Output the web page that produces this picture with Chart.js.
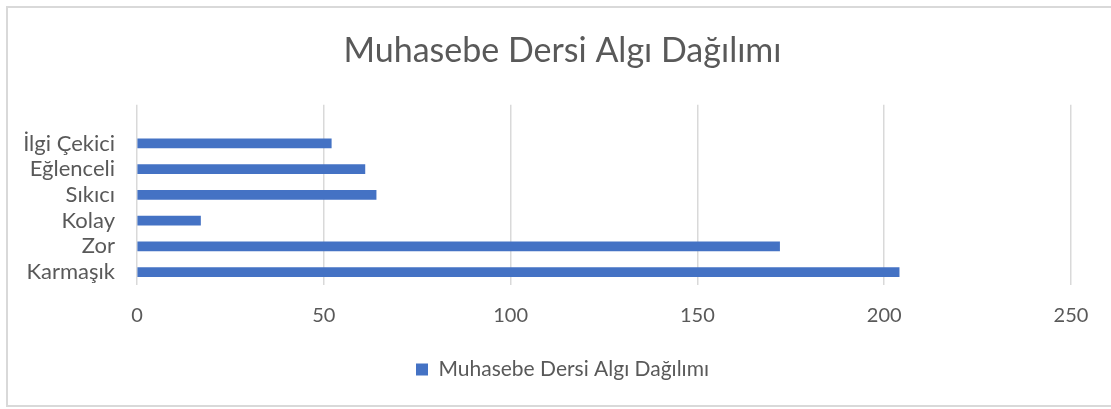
<!DOCTYPE html>
<html>
<head>
<meta charset="utf-8">
<script src="https://cdn.jsdelivr.net/npm/chart.js@4/dist/chart.umd.min.js"></script>
<style>
  html, body { margin: 0; padding: 0; background: #fff; overflow: hidden; }
  #frame { position: absolute; left: 6px; top: 6px; width: 1120px; height: 397px; border: 2px solid #d9d9d9; }
  #wrap { position: absolute; left: 0; top: 0; width: 1125px; height: 409px; }
</style>
</head>
<body>
<div id="frame"></div>
<div id="wrap"><canvas id="chart" width="1125" height="409"></canvas></div>
<script>
const categories = ['İlgi Çekici', 'Eğlenceli', 'Sıkıcı', 'Kolay', 'Zor', 'Karmaşık'];
const values = [52, 61, 64, 17, 172, 204];
const xTicks = [0, 50, 100, 150, 200, 250];
const seriesName = 'Muhasebe Dersi Algı Dağılımı';

const textColor = '#595959';
const fontFamily = 'Lato, "Open Sans", sans-serif';

const ctx = document.getElementById('chart').getContext('2d');
new Chart(ctx, {
    type: 'bar',
    data: {
        datasets: [{
            label: seriesName,
            data: values.map((v, i) => ({ x: v, y: i })),
            backgroundColor: '#4472C4',
            borderWidth: 0,
            barThickness: 9
        }]
    },
    options: {
        indexAxis: 'y',
        responsive: false,
        animation: false,
        layout: { padding: { left: 0, right: 0, top: 0, bottom: 19 } },
        scales: {
            x: {
                type: 'linear',
                min: xTicks[0],
                max: xTicks[xTicks.length - 1],
                afterBuildTicks: axis => { axis.ticks = xTicks.map(v => ({ value: v })); },
                // keep the plot's right edge at the 250 line like the original
                afterFit: axis => { axis.paddingRight = 54; },
                grid: { color: '#d9d9d9', lineWidth: 1.5, drawTicks: false },
                border: { display: false },
                ticks: { color: textColor, font: { family: fontFamily, size: 20 }, padding: 19 }
            },
            y: {
                type: 'linear',
                offset: false,
                bounds: 'data',
                reverse: true,
                min: -1.5,
                max: categories.length - 0.5,
                afterBuildTicks: axis => { axis.ticks = categories.map((c, i) => ({ value: i })); },
                afterFit: axis => { axis.width = 137; },
                grid: { display: false },
                border: { display: false },
                ticks: {
                    color: textColor,
                    font: { family: fontFamily, size: 22 },
                    padding: 14,
                    callback: v => categories[v]
                }
            }
        },
        plugins: {
            title: {
                display: true,
                text: seriesName,
                color: textColor,
                font: { family: fontFamily, size: 34, weight: 'normal' },
                padding: { top: 31, bottom: 33 }
            },
            legend: {
                position: 'bottom',
                labels: {
                    color: textColor,
                    font: { family: fontFamily, size: 21 },
                    boxWidth: 12,
                    boxHeight: 12,
                    padding: 12
                }
            },
            tooltip: { enabled: false }
        }
    }
});
</script>
</body>
</html>
